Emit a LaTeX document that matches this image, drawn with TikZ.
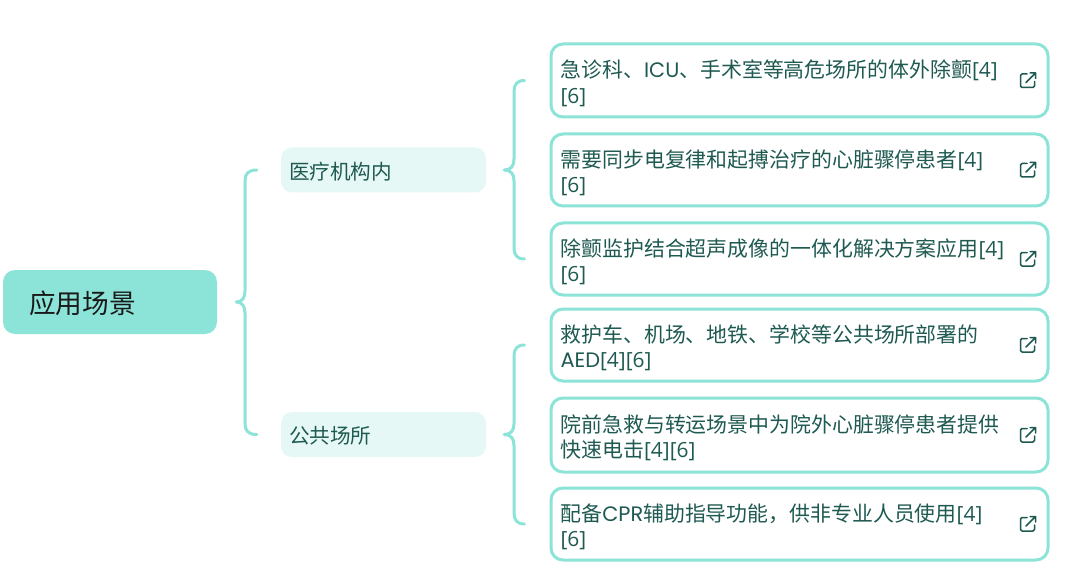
\documentclass[tikz,border=0pt]{standalone}
\usepackage{fontspec}
\setmainfont{Poppins}
\newfontfamily\cjk{Noto Sans CJK SC}
\newfontfamily\brk{Open Sans}
\usetikzlibrary{calc}
\definecolor{mint}{HTML}{8CE4D8}
\definecolor{palemint}{HTML}{E6F8F5}
\definecolor{deepteal}{HTML}{1F5A52}
\newcommand\zh[1]{{\cjk #1}}
\newcommand\bk[1]{{\brk [#1]}}
\tikzset{
  rootbox/.style={fill=mint,draw=none,rounded corners=12pt,minimum width=214pt,minimum height=64pt,inner sep=0pt,
    text width=162pt,align=left,text=black!90,font=\fontsize{26.7}{32}\selectfont,execute at begin node=\rule{0pt}{26pt}},
  subbox/.style={fill=palemint,draw=none,rounded corners=11pt,minimum width=205pt,minimum height=45pt,inner sep=0pt,
    text width=189pt,align=left,text=deepteal,font=\fontsize{20.6}{26}\selectfont,execute at begin node=\rule{0pt}{20.5pt}},
  leafbox/.style={fill=white,draw=mint,line width=3pt,rounded corners=12pt,minimum width=497pt,inner sep=0pt,
    text width=478pt,align=left,text=deepteal,font=\fontsize{20.9}{25.5}\selectfont,execute at begin node=\rule{0pt}{23pt}},
  bracelink/.style={draw=mint,line width=3pt,line cap=round,line join=round},
  extlink/.pic={
    \draw[deepteal,line width=1.5pt,line cap=round,line join=round,rounded corners=1.5pt]
      (-1,-6.5) -- (-7.5,-6.5) -- (-7.5,7) -- (6.5,7) -- (6.5,1);
    \draw[deepteal,line width=1.5pt,line cap=round,line join=round]
      (-2,2) -- (7.5,-7.5) (2,-7.5) -- (7.5,-7.5) -- (7.5,-2);
  }
}
% brace: tip, upper end, lower end; the spine stands at the given x
\newcommand\bracefrom[4]{%
  \draw[bracelink] let \p1=(#1),\p2=(#2),\p3=(#3) in
    (\x2,\y2) .. controls (#4+3pt,\y2) and (#4,\y2-4pt) .. (#4,\y2-11pt)
    -- (#4,\y1+11pt) .. controls (#4,\y1+4pt) and (#4-3pt,\y1) .. (\x1,\y1)
    .. controls (#4-3pt,\y1) and (#4,\y1-4pt) .. (#4,\y1-11pt)
    -- (#4,\y3+11pt) .. controls (#4,\y3+4pt) and (#4+3pt,\y3) .. (\x3,\y3);}
\begin{document}
\begin{tikzpicture}[x=1pt,y=-1pt]
\useasboundingbox[fill=white] (0,0) rectangle (1080,583);
\node[rootbox] (root) at (110,302) {\zh{应用场景}};
\node[subbox] (med) at (383.5,170) {\zh{医疗机构内}};
\node[subbox] (pub) at (383.5,434.5) {\zh{公共场所}};
\node[leafbox,minimum height=73pt] (a1) at (799.5,80.5) {\zh{急诊科、}ICU\zh{、手术室等高危场所的体外除颤}\bk{4}\\\bk{6}};
\node[leafbox,minimum height=72pt] (a2) at (799.5,170) {\zh{需要同步电复律和起搏治疗的心脏骤停患者}\bk{4}\\\bk{6}};
\node[leafbox,minimum height=72pt] (a3) at (799.5,259) {\zh{除颤监护结合超声成像的一体化解决方案应用}\bk{4}\\\bk{6}};
\node[leafbox,minimum height=72pt] (b1) at (799.5,345) {\zh{救护车、机场、地铁、学校等公共场所部署的}\\AED\bk{4}\bk{6}};
\node[leafbox,minimum height=74pt] (b2) at (799.5,435) {\zh{院前急救与转运场景中为院外心脏骤停患者提供}\\\zh{快速电击}\bk{4}\bk{6}};
\node[leafbox,minimum height=72pt] (b3) at (799.5,524) {\zh{配备}CPR\zh{辅助指导功能，供非专业人员使用}\bk{4}\\\bk{6}};
\foreach \n in {a1,a2,a3,b1,b2,b3}{\pic at ($(\n.east)+(-21.5,0)$) {extlink};}
\coordinate (rt) at ($(root.east)+(19,0)$);
\coordinate (rtop) at ($(med.west)+(-24,0)$);
\coordinate (rbot) at ($(pub.west)+(-24,0)$);
\bracefrom{rt}{rtop}{rbot}{245pt}
\coordinate (mt) at ($(med.east)+(18,0)$);
\coordinate (mtop) at ($(a1.west)+(-25,0)$);
\coordinate (mbot) at ($(a3.west)+(-25,0)$);
\bracefrom{mt}{mtop}{mbot}{514pt}
\coordinate (pt) at ($(pub.east)+(18,0)$);
\coordinate (ptop) at ($(b1.west)+(-25,0)$);
\coordinate (pbot) at ($(b3.west)+(-25,0)$);
\bracefrom{pt}{ptop}{pbot}{514pt}
\end{tikzpicture}
\end{document}
